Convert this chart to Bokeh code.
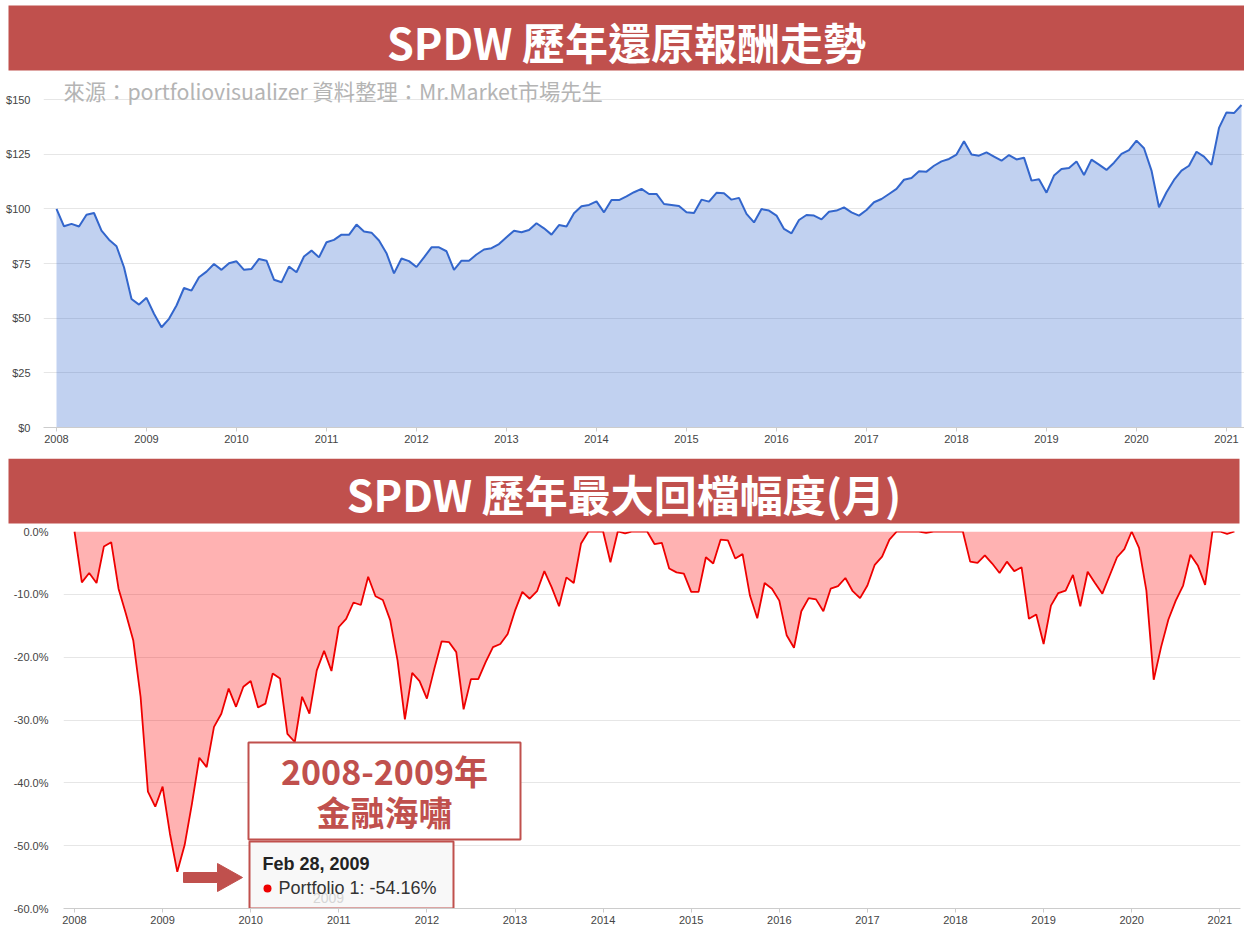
from bokeh.plotting import figure
from bokeh.layouts import column
from bokeh.models import FixedTicker, PrintfTickFormatter, Range1d
from bokeh.core.properties import value
from bokeh.embed import file_html
from bokeh.resources import INLINE

# ---------------- data ----------------
start_year = 2008
values = [
    100, 92.0, 93.1, 91.9, 97.3, 98.1, 90.0, 85.9, 82.9, 73.3, 58.8, 56.2,
    59.3, 52.0, 45.84, 49.7, 55.8, 63.8, 62.6, 68.7, 71.3, 74.8, 72.1, 75.1,
    76.0, 72.1, 72.5, 77.1, 76.3, 67.6, 66.4, 73.6, 71.0, 78.2, 80.9, 77.8,
    84.7, 85.8, 88.2, 88.1, 92.8, 89.6, 89.1, 85.5, 79.7, 70.5, 77.3, 76.1,
    73.4, 77.8, 82.4, 82.4, 80.6, 72.1, 76.3, 76.3, 79.1, 81.4, 82.0, 83.9,
    87.0, 90.0, 89.3, 90.3, 93.4, 91.1, 88.2, 92.6, 91.9, 98.0, 101.2, 101.8,
    103.4, 98.4, 104.0, 104.0, 105.7, 107.6, 109.1, 106.8, 106.8, 102.2, 101.8, 101.3,
    98.4, 98.1, 104.2, 103.3, 107.3, 107.1, 104.2, 105.0, 97.7, 93.8, 99.9, 99.2,
    96.9, 90.8, 88.8, 94.9, 97.2, 96.9, 95.2, 98.7, 99.2, 100.7, 98.4, 96.9,
    99.5, 103.0, 104.5, 106.8, 109.1, 113.3, 114.1, 117.2, 117.0, 119.7, 121.7, 122.8,
    124.8, 130.9, 124.8, 124.3, 125.8, 123.9, 122.0, 124.6, 122.6, 123.4, 112.9, 113.5,
    107.4, 115.2, 118.2, 118.7, 121.7, 115.5, 122.5, 120.2, 117.8, 121.1, 125.1, 126.9,
    131.2, 127.7, 117.5, 100.7, 107.6, 113.2, 117.5, 119.7, 126.1, 123.9, 120.1, 137.0,
    144.1, 143.8, 147.5,
]
drawdowns = [
    0, -8.1, -6.6, -8.2, -2.4, -1.7, -9.1, -13.1, -17.3, -26.3, -41.4, -43.8,
    -40.6, -48.1, -54.16, -49.9, -43.3, -36.0, -37.5, -31.1, -29.0, -25.0, -27.9, -24.7,
    -23.8, -28.0, -27.4, -22.6, -23.4, -32.2, -33.5, -26.3, -29.0, -22.1, -19.0, -22.2,
    -15.2, -13.9, -11.3, -11.7, -7.2, -10.3, -10.9, -14.1, -20.5, -29.9, -22.5, -23.8,
    -26.6, -21.9, -17.5, -17.6, -19.2, -28.3, -23.5, -23.5, -20.8, -18.4, -17.9, -16.3,
    -12.6, -9.6, -10.7, -9.5, -6.3, -8.9, -11.9, -7.3, -8.2, -1.9, 0, 0,
    0, -4.9, 0, -0.3, 0, 0, 0, -2.0, -1.8, -5.9, -6.5, -6.7,
    -9.6, -9.6, -4.1, -5.1, -1.3, -1.4, -4.3, -3.6, -10.2, -13.8, -8.2, -9.1,
    -11.0, -16.5, -18.5, -12.7, -10.6, -10.8, -12.7, -9.1, -8.7, -7.4, -9.5, -10.6,
    -8.6, -5.3, -4.0, -1.3, 0, 0, 0, 0, -0.2, 0, 0, 0,
    0, 0, -4.8, -5.0, -3.8, -5.1, -6.6, -4.8, -6.3, -5.7, -13.9, -13.2,
    -17.9, -11.8, -9.8, -9.4, -6.9, -11.9, -6.4, -8.2, -9.9, -7.0, -4.1, -2.8,
    0, -2.6, -9.4, -23.6, -18.4, -14.0, -11.0, -8.6, -3.7, -5.4, -8.5, 0,
    0, -0.4, 0,
]
year_ticks = list(range(2008, 2022))
value_ticks = [0, 25, 50, 75, 100, 125, 150]
dd_ticks = [0, -10, -20, -30, -40, -50, -60]
dates = [start_year + i / 12 for i in range(len(values))]

title1 = "SPDW 歷年還原報酬走勢"
title2 = "SPDW 歷年最大回檔幅度(月)"
subtitle = "來源：portfoliovisualizer 資料整理：Mr.Market市場先生"
note_line1 = "2008-2009年"
note_line2 = "金融海嘯"
tip_date = "Feb 28, 2009"
tip_text = "Portfolio 1: -54.16%"

# ---------------- styling ----------------
W = 1244
CJK = "Noto Sans CJK TC"
SANS = "Liberation Sans"
RED = "#c0504d"
GRID = "#e6e6e6"
LABEL = "#444444"


def no_align(p):
    try:
        p.frame_align = False
    except Exception:
        pass


def banner(text, h, left, right, top, bottom, ty):
    # screen-like coordinates: x in px, y in px from top
    b = figure(width=W, height=h, x_range=Range1d(0, W), y_range=Range1d(h, 0),
               toolbar_location=None, output_backend="svg", min_border=0,
               x_axis_location=None, y_axis_location=None)
    no_align(b)
    b.grid.visible = False
    b.outline_line_color = None
    b.background_fill_color = "white"
    b.border_fill_color = "white"
    b.quad(left=[left], right=[right], top=[top], bottom=[bottom],
           fill_color=RED, line_color=None)
    b.text(x=[(left + right) / 2], y=[ty], text=[text], text_font=value(CJK),
           text_font_size="43px", text_font_style="bold", text_color="white",
           text_align="center", text_baseline="middle")
    return b


def style(p, yticks, yfmt, ystand):
    no_align(p)
    p.outline_line_color = None
    p.xgrid.visible = False
    p.ygrid.ticker = FixedTicker(ticks=yticks)
    p.ygrid.grid_line_color = GRID
    p.yaxis.ticker = FixedTicker(ticks=yticks)
    p.yaxis.formatter = PrintfTickFormatter(format=yfmt)
    p.yaxis.axis_line_color = None
    p.yaxis.major_tick_line_color = None
    p.yaxis.minor_tick_line_color = None
    p.yaxis.major_tick_out = 0
    p.yaxis.major_tick_in = 0
    p.yaxis.major_label_standoff = ystand
    p.xaxis.ticker = FixedTicker(ticks=year_ticks)
    p.xaxis.formatter = PrintfTickFormatter(format="%d")
    p.xaxis.axis_line_color = "#cccccc"
    p.xaxis.major_tick_line_color = "#cccccc"
    p.xaxis.minor_tick_line_color = None
    p.xaxis.major_tick_out = 4
    p.xaxis.major_tick_in = 0
    p.xaxis.major_label_standoff = 3
    for ax in (p.xaxis, p.yaxis):
        ax.major_label_text_font = SANS
        ax.major_label_text_font_size = "11px"
        ax.major_label_text_color = LABEL


# ---------------- top chart (page y 71..458) ----------------
k1 = 90.0          # px per year
ky1 = 328 / 150    # px per dollar
p1 = figure(width=W, height=387,
            x_range=Range1d(start_year - 13 / k1, start_year + (1244 - 56) / k1),
            y_range=Range1d(0, 150 + 19 / ky1),
            toolbar_location=None, output_backend="svg",
            min_border_left=43, min_border_right=0, min_border_top=9, min_border_bottom=31)
style(p1, value_ticks, "$%d", 13)
p1.varea(x=dates, y1=0, y2=values, fill_color="#3366cc", fill_alpha=0.3)
p1.line(dates, values, line_color="#3366cc", line_width=2)
p1.text(x=[start_year + 7 / k1], y=[(427 - 90) / ky1], text=[subtitle],
        text_font=value(CJK), text_font_size="21.3px", text_color="#b4b4b4",
        text_align="left", text_baseline="middle")

# ---------------- bottom chart (page y 524..930) ----------------
k2 = 88.1
p2 = figure(width=W, height=406,
            x_range=Range1d(start_year - 11 / k2, start_year + (1240 - 74) / k2),
            y_range=Range1d(-60, 0),
            toolbar_location=None, output_backend="svg",
            min_border_left=63, min_border_right=4, min_border_top=7, min_border_bottom=22)
style(p2, dd_ticks, "%.1f%%", 15)
p2.varea(x=dates, y1=0, y2=drawdowns, fill_color="#ff0000", fill_alpha=0.3)
p2.line(dates, drawdowns, line_color="#ee0000", line_width=1.8)


def rx(px):
    return start_year + (px - 74) / k2


def ry(py):
    return -(py - 531) / (377 / 60)


# callout box
p2.quad(left=[rx(248)], right=[rx(520)], top=[ry(742)], bottom=[ry(839)],
        fill_color="white", line_color=RED, line_width=2)
p2.text(x=[rx(384)], y=[ry(770)], text=[note_line1], text_font=value(CJK),
        text_font_size="34px", text_font_style="bold", text_color=RED,
        text_align="center", text_baseline="middle")
p2.text(x=[rx(384)], y=[ry(811)], text=[note_line2], text_font=value(CJK),
        text_font_size="34px", text_font_style="bold", text_color=RED,
        text_align="center", text_baseline="middle")

# tooltip box
p2.quad(left=[rx(249)], right=[rx(453)], top=[ry(841)], bottom=[-60],
        fill_color="#f8f8f8", line_color=RED, line_width=2)
p2.text(x=[rx(328)], y=[ry(897)], text=["2009"], text_font=value(SANS),
        text_font_size="14px", text_color="#d6d6d6", text_align="center",
        text_baseline="middle")
p2.text(x=[rx(262)], y=[ry(863)], text=[tip_date], text_font=value(SANS),
        text_font_size="18px", text_font_style="bold", text_color="#222222",
        text_align="left", text_baseline="middle")
p2.scatter(x=[rx(267)], y=[ry(888)], size=8, fill_color="#ee0000", line_color=None)
p2.text(x=[rx(278)], y=[ry(887)], text=[tip_text], text_font=value(SANS),
        text_font_size="18px", text_color="#333333", text_align="left",
        text_baseline="middle")

# arrow
ax_px = [183, 217, 217, 242, 217, 217, 183]
ay_px = [872, 872, 863, 877, 891, 882, 882]
p2.patch(x=[rx(v) for v in ax_px], y=[ry(v) for v in ay_px],
         fill_color=RED, line_color=RED, line_width=1)

b1 = banner(title1, 71, 8, 1244, 5, 70, 40)
b2 = banner(title2, 66, 8, 1239, 0, 65, 34)
layout = column(b1, p1, b2, p2, spacing=0)

open("out.html", "w").write(file_html(layout, INLINE))
